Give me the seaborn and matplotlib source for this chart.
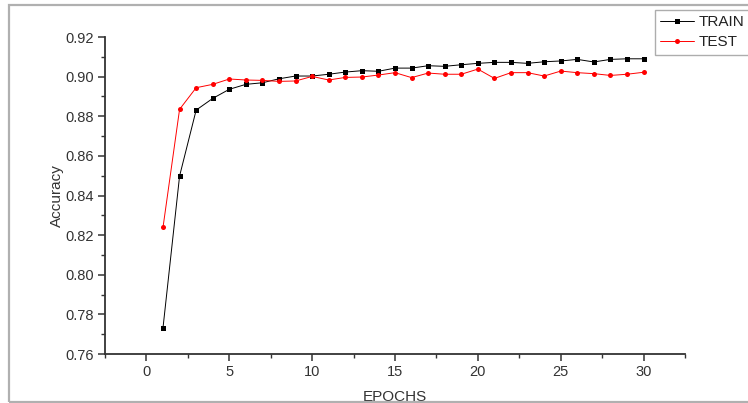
import numpy as np
import pandas as pd
import seaborn as sns
import matplotlib.pyplot as plt
from matplotlib.patches import Rectangle
from matplotlib.ticker import MultipleLocator

# 에포크별 정확도
epochs = list(range(1, 31))
train_acc = [0.7732, 0.8498, 0.8831, 0.8890, 0.8936, 0.8961, 0.8969, 0.8989, 0.9003, 0.9003,
             0.9012, 0.9023, 0.9030, 0.9027, 0.9043, 0.9043, 0.9055, 0.9052, 0.9060, 0.9067,
             0.9072, 0.9072, 0.9067, 0.9075, 0.9079, 0.9087, 0.9074, 0.9087, 0.9090, 0.9090]
test_acc = [0.8239, 0.8835, 0.8944, 0.8961, 0.8988, 0.8983, 0.8981, 0.8976, 0.8978, 0.9001,
            0.8983, 0.8996, 0.8998, 0.9008, 0.9020, 0.8995, 0.9018, 0.9012, 0.9012, 0.9038,
            0.8991, 0.9020, 0.9020, 0.9003, 0.9028, 0.9020, 0.9015, 0.9006, 0.9012, 0.9022]
series_names = ["TRAIN", "TEST"]

df = pd.DataFrame({
    "EPOCHS": epochs * 2,
    "Accuracy": train_acc + test_acc,
    "set": ["TRAIN"] * len(epochs) + ["TEST"] * len(epochs),
})

sns.set_style("white")
plt.rcParams['font.family'] = ['Liberation Sans', 'DejaVu Sans']

fig = plt.figure(figsize=(7.48, 4.03), dpi=100)
ax = fig.add_axes([105 / 748, 1 - 354 / 403, 580 / 748, 317 / 403])

sns.lineplot(data=df, x="EPOCHS", y="Accuracy", hue="set", style="set",
             hue_order=series_names, style_order=series_names,
             palette={"TRAIN": "black", "TEST": "red"},
             markers={"TRAIN": "s", "TEST": "o"}, dashes=False,
             markersize=3.6, markeredgewidth=0, linewidth=0.7,
             legend=False, ax=ax)

ax.set_xlim(-2.5, 32.5)
ax.set_ylim(0.76, 0.92)
ax.xaxis.set_major_locator(MultipleLocator(5))
ax.xaxis.set_minor_locator(MultipleLocator(2.5))
ax.yaxis.set_major_locator(MultipleLocator(0.02))
ax.yaxis.set_minor_locator(MultipleLocator(0.01))
ax.yaxis.set_major_formatter(plt.FormatStrFormatter("%.2f"))

for s in ["top", "right"]:
    ax.spines[s].set_visible(False)
for s in ["left", "bottom"]:
    ax.spines[s].set_color("#333333")
    ax.spines[s].set_linewidth(1.3)

ax.tick_params(which="major", direction="out", length=5, width=1.1, color="#333333",
               labelsize=10.5, labelcolor="#333333", left=True, bottom=True, pad=3)
ax.tick_params(which="minor", direction="out", length=3, width=1.0, color="#333333",
               left=True, bottom=True)

ax.set_xlabel("EPOCHS", fontsize=11, color="#333333", labelpad=8)
ax.set_ylabel("Accuracy", fontsize=11, color="#333333", labelpad=1)

# 범례
handles = [
    plt.Line2D([], [], color="black", marker="s", markersize=3.6, markeredgewidth=0, lw=0.7),
    plt.Line2D([], [], color="red", marker="o", markersize=3.6, markeredgewidth=0, lw=0.7),
]
leg = fig.legend(handles, series_names, loc="upper left",
                 bbox_to_anchor=(655 / 748, 1 - 10 / 403), fontsize=11,
                 frameon=True, fancybox=False, handlelength=2.2, handletextpad=0.3,
                 borderpad=0.35, labelspacing=0.4, borderaxespad=0)
leg.get_frame().set_edgecolor("#999999")
leg.get_frame().set_linewidth(1.0)
for t in leg.get_texts():
    t.set_color("#222222")

# 바깥 테두리
fig.patches.append(Rectangle((9 / 748, 1.5 / 403), 0.99, 1 - 6.5 / 403,
                             transform=fig.transFigure, fill=False,
                             edgecolor="#b0b0b0", linewidth=1.6, clip_on=False))

fig.savefig("out.png", dpi=100)
